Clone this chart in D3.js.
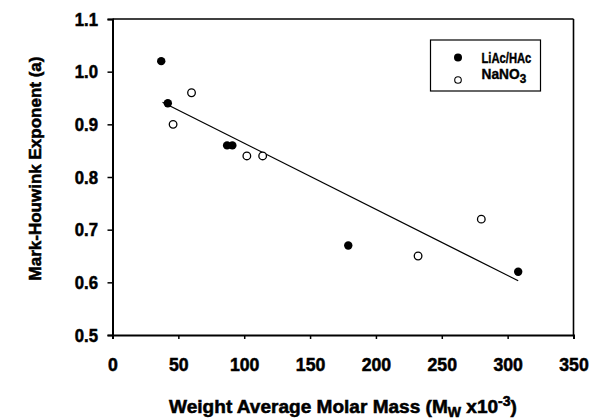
<!DOCTYPE html>
<html>
<head>
<meta charset="utf-8">
<script src="https://cdn.jsdelivr.net/npm/d3@7"></script>
<style>
  html, body { margin: 0; padding: 0; background: #fff; }
  svg { display: block; }
  text { font-family: "Liberation Sans", Arial, sans-serif; font-weight: bold; fill: #000; stroke: #000; stroke-width: 0.55px; }
</style>
</head>
<body>
<svg id="chart" width="590" height="420"></svg>
<script>
// Data
const liacX = [37, 42, 87, 91, 179, 308];
const liacY = [1.02, 0.94, 0.86, 0.86, 0.67, 0.62];
const nanoX = [46, 60, 102, 114, 232, 280];
const nanoY = [0.90, 0.96, 0.84, 0.84, 0.65, 0.72];
const fitX = [38, 308];
const fitY = [0.942, 0.603];
const xTicks = [0, 50, 100, 150, 200, 250, 300, 350];
const yTicks = [0.5, 0.6, 0.7, 0.8, 0.9, 1.0, 1.1];
const seriesNames = ["LiAc/HAc", "NaNO3"];

const svg = d3.select("#chart");
const L = 112.5, R = 573.5, T = 19, B = 335;
const x = d3.scaleLinear().domain([0, 350]).range([L, R]);
const y = d3.scaleLinear().domain([0.5, 1.1]).range([B, T]);
const SXX = 0.93, SXY = 0.88; // horizontal squeeze for narrow bold face

function fit(textSel, target) {
  const w = textSel.node().getBBox().width;
  textSel.attr("transform", `scale(${target / w},1)`);
}

// frame (top, right)
svg.append("line").attr("x1", L).attr("x2", R).attr("y1", T).attr("y2", T)
  .attr("stroke", "#000").attr("stroke-width", 1.3);
svg.append("line").attr("x1", R).attr("x2", R).attr("y1", T).attr("y2", B)
  .attr("stroke", "#000").attr("stroke-width", 1.6);

// axes
const xAxis = svg.append("g").attr("transform", `translate(0,${B})`)
  .call(d3.axisBottom(x).tickValues(xTicks).tickSize(4).tickPadding(18.5).tickFormat(d3.format("d")));
const yAxis = svg.append("g").attr("transform", `translate(${L},0)`)
  .call(d3.axisLeft(y).tickValues(yTicks).tickSize(5).tickPadding(8.5).tickFormat(d3.format(".1f")));
[xAxis, yAxis].forEach(g => {
  g.attr("font-family", null);
  g.select(".domain").attr("stroke", "#000").attr("stroke-width", 2);
  g.selectAll(".tick line").attr("stroke", "#000").attr("stroke-width", 1.5);
});
xAxis.selectAll(".tick text").style("font-size", "19px").attr("transform", `scale(${SXX},1)`);
yAxis.selectAll(".tick text").style("font-size", "19px")
  .attr("x", -14.5 / SXY).attr("transform", `scale(${SXY},1)`);

// fit line
svg.append("path")
  .datum(fitX.map((d, i) => [d, fitY[i]]))
  .attr("d", d3.line().x(d => x(d[0])).y(d => y(d[1])))
  .attr("fill", "none").attr("stroke", "#000").attr("stroke-width", 1.3);

// points
svg.append("g").selectAll("circle")
  .data(liacX.map((d, i) => [d, liacY[i]]))
  .join("circle")
  .attr("cx", d => x(d[0])).attr("cy", d => y(d[1])).attr("r", 4.2)
  .attr("fill", "#000");
svg.append("g").selectAll("circle")
  .data(nanoX.map((d, i) => [d, nanoY[i]]))
  .join("circle")
  .attr("cx", d => x(d[0])).attr("cy", d => y(d[1])).attr("r", 3.8)
  .attr("fill", "#fff").attr("stroke", "#000").attr("stroke-width", 1.3);

// legend
const lg = svg.append("g");
lg.append("rect").attr("x", 430.5).attr("y", 40).attr("width", 110).attr("height", 51)
  .attr("fill", "#fff").attr("stroke", "#000").attr("stroke-width", 1.2);
lg.append("circle").attr("cx", 458).attr("cy", 57.5).attr("r", 4).attr("fill", "#000");
lg.append("circle").attr("cx", 458).attr("cy", 80).attr("r", 3.3).attr("fill", "#fff")
  .attr("stroke", "#000").attr("stroke-width", 1.1);
const l1 = lg.append("g").attr("transform", "translate(481.5,63)")
  .append("text").style("font-size", "14px").style("stroke-width", "0.4px").text(seriesNames[0]);
fit(l1, 50);
const l2 = lg.append("g").attr("transform", "translate(481.5,79)")
  .append("text").style("font-size", "14px").style("stroke-width", "0.4px");
l2.append("tspan").text(seriesNames[1].slice(0, 4));
l2.append("tspan").attr("dy", 4).style("font-size", "12px").text(seriesNames[1].slice(4));
fit(l2, 45);

// axis titles
const xt = svg.append("g").attr("transform", `translate(${(L + R) / 2},413)`)
  .append("text").attr("text-anchor", "middle").style("font-size", "19px");
xt.append("tspan").text("Weight Average Molar Mass (M");
xt.append("tspan").attr("dy", 3.5).style("font-size", "14px").text("W");
xt.append("tspan").attr("dy", -3.5).text(" x10");
xt.append("tspan").attr("dy", -7).style("font-size", "14px").text("-3");
xt.append("tspan").attr("dy", 7).text(")");
fit(xt, 348);

const yt = svg.append("g").attr("transform", "translate(40.5,168.5) rotate(-90)")
  .append("text").attr("text-anchor", "middle").style("font-size", "17px")
  .text("Mark-Houwink Exponent (a)");
fit(yt, 224);
</script>
</body>
</html>
